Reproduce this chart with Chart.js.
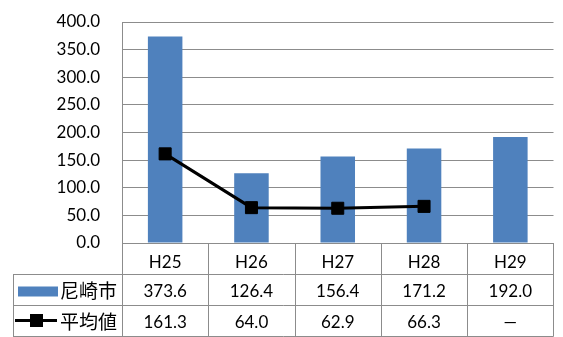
<!DOCTYPE html>
<html>
<head>
<meta charset="utf-8">
<script src="https://cdn.jsdelivr.net/npm/chart.js@4/dist/chart.umd.min.js"></script>
<style>
  html, body { margin: 0; padding: 0; background: #fff; }
  #wrap { width: 563px; height: 337px; }
</style>
</head>
<body>
<div id="wrap"><canvas id="c" width="563" height="337"></canvas></div>
<script>
// Fiscal years (Heisei) shown along the category axis
const years = ['H25', 'H26', 'H27', 'H28', 'H29'];
// 尼崎市 values (bars)
const amagasaki = [373.6, 126.4, 156.4, 171.2, 192.0];
// 平均値 values (line); no figure for H29
const average = [161.3, 64.0, 62.9, 66.3, null];
// Series names used in the data table rows
const seriesNames = ['尼崎市', '平均値'];

const BAR_COLOR = '#4f81bd';
const LINE_GRAY = '#8c8c8c';
const NUM_FONT = '17px Lato, "Liberation Sans", sans-serif';
const JP_FONT = '19px "Noto Sans CJK JP", sans-serif';

function fmt(v) {
  return v === null ? '—' : v.toFixed(1);
}

// Draws the data table under the category axis, with the series keys
const dataTable = {
  id: 'dataTable',
  afterDraw(chart) {
    const ctx = chart.ctx;
    const x = chart.scales.x;
    const area = chart.chartArea;
    const step = x.getPixelForValue(1) - x.getPixelForValue(0);
    const left = x.getPixelForValue(0) - step / 2;
    const right = x.getPixelForValue(years.length - 1) + step / 2;
    const keyLeft = 13;
    const top = Math.round(area.bottom);
    const rowTop = [top, top + 31, top + 62];
    const tableBottom = top + 93;

    ctx.save();
    ctx.strokeStyle = LINE_GRAY;
    ctx.lineWidth = 1;
    ctx.beginPath();
    // horizontal rules
    ctx.moveTo(left, rowTop[0] + 0.5); ctx.lineTo(right, rowTop[0] + 0.5);
    [rowTop[1], rowTop[2], tableBottom].forEach(y => {
      ctx.moveTo(keyLeft, y + 0.5);
      ctx.lineTo(right, y + 0.5);
    });
    // vertical rules
    for (let i = 0; i <= years.length; i++) {
      const xx = Math.round(left + i * step) + 0.5;
      ctx.moveTo(xx, rowTop[0]);
      ctx.lineTo(xx, tableBottom + 0.5);
    }
    ctx.moveTo(keyLeft + 0.5, rowTop[1]);
    ctx.lineTo(keyLeft + 0.5, tableBottom + 0.5);
    ctx.stroke();

    // series keys
    const midBar = rowTop[1] + 15.5;
    const midLine = rowTop[2] + 15.5;
    ctx.fillStyle = BAR_COLOR;
    ctx.fillRect(18, midBar - 3, 40, 10);

    ctx.strokeStyle = '#000';
    ctx.lineWidth = 3;
    ctx.beginPath();
    ctx.moveTo(15, midLine);
    ctx.lineTo(57, midLine);
    ctx.stroke();
    ctx.fillStyle = '#000';
    ctx.fillRect(30, midLine - 6.5, 13, 13);

    ctx.fillStyle = '#000';
    ctx.font = JP_FONT;
    ctx.textAlign = 'left';
    ctx.textBaseline = 'middle';
    ctx.fillText(seriesNames[0], 60, midBar + 1);
    ctx.fillText(seriesNames[1], 60, midLine + 1);

    // values
    ctx.font = NUM_FONT;
    ctx.textAlign = 'center';
    years.forEach((_, i) => {
      const cx = x.getPixelForValue(i);
      ctx.fillText(fmt(amagasaki[i]), cx, midBar + 2);
      ctx.fillText(fmt(average[i]), cx, midLine + 2);
    });
    ctx.restore();
  }
};

new Chart(document.getElementById('c'), {
  data: {
    labels: years,
    datasets: [
      {
        type: 'line',
        label: seriesNames[1],
        data: average,
        order: 0,
        borderColor: '#000',
        borderWidth: 3,
        backgroundColor: '#000',
        pointStyle: 'rect',
        pointRadius: 8.5,
        pointBorderWidth: 1,
        pointBackgroundColor: '#000',
        pointBorderColor: '#000',
        tension: 0,
        spanGaps: false
      },
      {
        type: 'bar',
        label: seriesNames[0],
        data: amagasaki,
        order: 1,
        backgroundColor: BAR_COLOR,
        borderWidth: 0,
        barPercentage: 0.8,
        categoryPercentage: 0.5
      }
    ]
  },
  options: {
    responsive: false,
    animation: false,
    devicePixelRatio: 1,
    layout: { padding: { top: 22, right: 3, left: 0, bottom: 0 } },
    plugins: {
      legend: { display: false },
      tooltip: { enabled: false }
    },
    scales: {
      x: {
        grid: { display: false, drawTicks: false },
        border: { display: true, color: LINE_GRAY, width: 1 },
        ticks: {
          color: '#000',
          font: { family: 'Lato, "Liberation Sans", sans-serif', size: 17 },
          padding: 9,
          maxRotation: 0
        },
        afterFit(scale) { scale.height = 94; }
      },
      y: {
        min: 0,
        max: 400,
        grid: { color: LINE_GRAY, drawTicks: false },
        border: { display: true, color: LINE_GRAY, width: 1 },
        ticks: {
          stepSize: 50,
          color: '#000',
          padding: 22,
          font: { family: 'Lato, "Liberation Sans", sans-serif', size: 17 },
          callback: v => Number(v).toFixed(1)
        },
        afterFit(scale) {
          scale.width = 122;
          // the tick gap is horizontal only; keep the plot top set by layout padding
          scale.paddingTop = 0;
          scale.paddingBottom = 0;
        }
      }
    }
  },
  plugins: [dataTable]
});
</script>
</body>
</html>
